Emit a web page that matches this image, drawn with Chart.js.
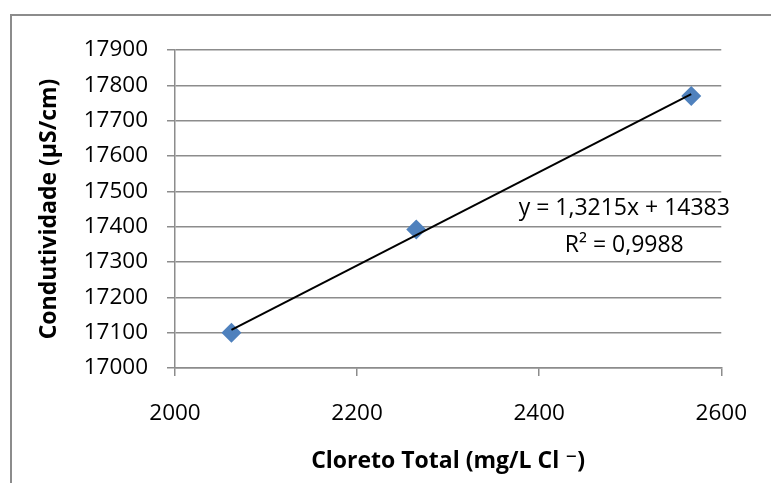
<!DOCTYPE html>
<html>
<head>
<meta charset="utf-8">
<script src="https://cdn.jsdelivr.net/npm/chart.js@4.4.0/dist/chart.umd.min.js"></script>
<style>
  html, body { margin: 0; padding: 0; background: #fff; overflow: hidden; }
  #wrap { position: relative; width: 771px; height: 483px; }
  #frame { position: absolute; left: 10px; top: 14px; width: 800px; height: 500px; border: 2px solid #8c8c8c; }
  #chart { position: absolute; left: 0; top: 0; }
</style>
</head>
<body>
<div id="wrap">
  <div id="frame"></div>
  <canvas id="chart" width="771" height="483"></canvas>
</div>
<script>
// medições: cloreto total x condutividade
const cloreto = [2062, 2265, 2567];
const condutividade = [17100, 17392, 17770];

// reta de tendência (ajuste linear) e R²
const inclinacao = 1.3215;
const intercepto = 14383;
const r2 = 0.9988;

const ticksX = [2000, 2200, 2400, 2600];
const ticksY = [17000, 17100, 17200, 17300, 17400, 17500, 17600, 17700, 17800, 17900];

const cinza = '#8c8c8c';
const fonte = "'Open Sans', 'DejaVu Sans', sans-serif";

const pontos = cloreto.map((x, i) => ({ x: x, y: condutividade[i] }));
const xIni = Math.min(...cloreto);
const xFim = Math.max(...cloreto);
const tendencia = [xIni, xFim].map(x => ({ x: x, y: inclinacao * x + intercepto }));

function virgula(v) {
  return String(v).replace('.', ',');
}

// texto da equação ao lado da reta
const rotuloEquacao = {
  id: 'rotuloEquacao',
  afterDatasetsDraw(chart) {
    const { ctx, chartArea } = chart;
    const cx = chartArea.right - 97;
    ctx.save();
    ctx.fillStyle = '#000';
    ctx.font = "23px " + fonte;
    ctx.textAlign = 'center';
    ctx.textBaseline = 'middle';
    ctx.fillText(`y = ${virgula(inclinacao)}x + ${intercepto}`, cx, chartArea.top + 158);
    ctx.fillText(`R² = ${virgula(r2.toFixed(4))}`, cx, chartArea.top + 195);
    ctx.restore();
  }
};

const ctx = document.getElementById('chart').getContext('2d');
new Chart(ctx, {
  type: 'scatter',
  data: {
    datasets: [
      {
        data: tendencia,
        showLine: true,
        borderColor: '#000',
        borderWidth: 2,
        pointRadius: 0,
        order: 0
      },
      {
        data: pontos,
        pointStyle: 'rectRot',
        pointRadius: 10,
        backgroundColor: '#4f81bd',
        borderColor: '#4f81bd',
        borderWidth: 0,
        order: 1
      }
    ]
  },
  options: {
    responsive: false,
    animation: false,
    layout: { padding: { left: 0, top: 50, right: 48, bottom: 0 } },
    plugins: { legend: { display: false }, tooltip: { enabled: false } },
    scales: {
      x: {
        type: 'linear',
        min: 2000,
        max: 2600,
        afterBuildTicks: s => { s.ticks = ticksX.map(v => ({ value: v })); },
        afterFit: s => { s.height = 115; },
        grid: { drawOnChartArea: false, drawTicks: true, tickLength: 8, color: cinza, lineWidth: 1.5 },
        border: { color: cinza, width: 1.5 },
        ticks: { color: '#000', font: { family: fonte, size: 22.5 }, padding: 24, maxRotation: 0, callback: v => String(v) },
        title: {
          display: true,
          text: 'Cloreto Total (mg/L Cl ⁻)',
          color: '#000',
          font: { family: fonte, size: 23, weight: 'bold' },
          padding: { top: 0, bottom: 8 }
        }
      },
      y: {
        min: 17000,
        max: 17900,
        afterBuildTicks: s => { s.ticks = ticksY.map(v => ({ value: v })); },
        afterFit: s => { s.width = 175; },
        grid: { drawTicks: true, tickLength: 8, color: cinza, lineWidth: 1.5 },
        border: { color: cinza, width: 1.5 },
        ticks: { color: '#000', font: { family: fonte, size: 22.5 }, padding: 19, callback: v => String(v) },
        title: {
          display: true,
          text: 'Condutividade (µS/cm)',
          color: '#000',
          font: { family: fonte, size: 23, weight: 'bold' },
          padding: { top: 36, bottom: 0 }
        }
      }
    }
  },
  plugins: [rotuloEquacao]
});
</script>
</body>
</html>
